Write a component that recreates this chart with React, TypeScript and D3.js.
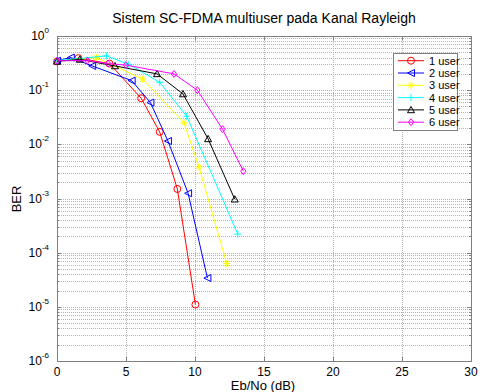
import { useEffect, useRef } from 'react';
import * as d3 from 'd3';

// BER vs Eb/No, one array per user count
const user1X = [0, 1.55, 3.8, 6.1, 7.44, 8.72, 10.03];
const user1Y = [0.34, 0.39, 0.31, 0.071, 0.017, 1.5e-3, 1.1e-5];
const user2X = [0, 1.0, 2.55, 5.41, 6.77, 8.04, 9.5, 10.9];
const user2Y = [0.35, 0.40, 0.28, 0.15, 0.059, 0.0115, 1.25e-3, 3.4e-5];
const user3X = [0, 2.85, 6.2, 9.2, 10.29, 12.3];
const user3Y = [0.35, 0.40, 0.16, 0.025, 3.8e-3, 6.3e-5];
const user4X = [0, 3.58, 5.2, 7.44, 9.4, 13.1];
const user4Y = [0.35, 0.43, 0.30, 0.14, 0.033, 2.2e-4];
const user5X = [0, 1.65, 4.2, 7.25, 9.13, 10.95, 12.88];
const user5Y = [0.34, 0.37, 0.28, 0.2, 0.085, 0.0126, 9.7e-4];
const user6X = [0, 2.2, 3.7, 5.0, 8.48, 10.17, 12.0, 13.5];
const user6Y = [0.35, 0.35, 0.31, 0.29, 0.20, 0.10, 0.019, 3.2e-3];

const seriesNames = ['1 user', '2 user', '3 user', '4 user', '5 user', '6 user'];
const seriesColors = ['#ff0000', '#0000ff', '#ffff00', '#00ffff', '#000000', '#ff00ff'];
const seriesMarkers = ['circle', 'tri-left', 'star', 'plus', 'tri-up', 'diamond'];
const xTicks = [0, 5, 10, 15, 20, 25, 30];
const yDecades = [-6, -5, -4, -3, -2, -1, 0];

type Pt = [number, number];

function markerPath(kind: string, s: number): string {
  switch (kind) {
    case 'tri-left':
      return `M${-s},0L${s},${-s}L${s},${s}Z`;
    case 'tri-up':
      return `M0,${-s}L${s},${s * 0.8}L${-s},${s * 0.8}Z`;
    case 'diamond':
      return `M0,${-s}L${s * 0.75},0L0,${s}L${-s * 0.75},0Z`;
    case 'plus':
      return `M${-s},0L${s},0M0,${-s}L0,${s}`;
    case 'star': {
      const d = s * 0.7;
      return `M${-s},0L${s},0M0,${-s}L0,${s}M${-d},${-d}L${d},${d}M${-d},${d}L${d},${-d}`;
    }
    default:
      return d3.symbol(d3.symbolCircle, Math.PI * s * s)() || '';
  }
}

export default function App() {
  const svgRef = useRef<SVGSVGElement>(null);

  useEffect(() => {
    if (!svgRef.current) return;
    const svg = d3.select(svgRef.current);
    svg.selectAll('*').remove();

    const font = 'Liberation Sans, Arial, sans-serif';
    const left = 57, right = 471, top = 36, bottom = 361;

    const x = d3.scaleLinear().domain([0, 30]).range([left, right]);
    const y = d3.scaleLog().domain([1e-6, 1]).range([bottom, top]);

    const series: Pt[][] = [
      user1X.map((v, i) => [v, user1Y[i]] as Pt),
      user2X.map((v, i) => [v, user2Y[i]] as Pt),
      user3X.map((v, i) => [v, user3Y[i]] as Pt),
      user4X.map((v, i) => [v, user4Y[i]] as Pt),
      user5X.map((v, i) => [v, user5Y[i]] as Pt),
      user6X.map((v, i) => [v, user6Y[i]] as Pt),
    ];

    svg.append('rect')
      .attr('width', 480).attr('height', 392).attr('fill', '#fff');

    // grid
    const grid = svg.append('g')
      .attr('stroke', '#b4b4b4')
      .attr('stroke-width', 1)
      .attr('stroke-dasharray', '1,1')
      .attr('shape-rendering', 'crispEdges');

    xTicks.slice(1, -1).forEach(t => {
      grid.append('line')
        .attr('x1', Math.round(x(t)) + 0.5).attr('x2', Math.round(x(t)) + 0.5)
        .attr('y1', top).attr('y2', bottom);
    });

    const yMinor: number[] = [];
    yDecades.forEach(e => {
      for (let m = 1; m < 10; m++) {
        const v = m * Math.pow(10, e);
        if (v <= 1 && v >= 1e-6) yMinor.push(v);
      }
    });
    yMinor.filter(v => v > 1e-6 && v < 1).forEach(v => {
      grid.append('line')
        .attr('x1', left).attr('x2', right)
        .attr('y1', Math.round(y(v)) + 0.5).attr('y2', Math.round(y(v)) + 0.5);
    });

    // ticks inside the box
    const ticks = svg.append('g').attr('stroke', '#808080').attr('shape-rendering', 'crispEdges');
    xTicks.forEach(t => {
      const px = Math.round(x(t)) + 0.5;
      ticks.append('line').attr('x1', px).attr('x2', px).attr('y1', bottom).attr('y2', bottom - 4);
      ticks.append('line').attr('x1', px).attr('x2', px).attr('y1', top).attr('y2', top + 4);
    });
    yMinor.forEach(v => {
      const py = Math.round(y(v)) + 0.5;
      const len = Number.isInteger(Math.log10(v)) || Math.abs(Math.log10(v) - Math.round(Math.log10(v))) < 1e-9 ? 4 : 2;
      ticks.append('line').attr('x1', left).attr('x2', left + len).attr('y1', py).attr('y2', py);
      ticks.append('line').attr('x1', right).attr('x2', right - len).attr('y1', py).attr('y2', py);
    });

    svg.append('rect')
      .attr('x', left + 0.5).attr('y', top + 0.5)
      .attr('width', right - left).attr('height', bottom - top)
      .attr('fill', 'none').attr('stroke', '#808080')
      .attr('shape-rendering', 'crispEdges');

    // tick labels
    svg.append('g')
      .selectAll('text')
      .data(xTicks)
      .join('text')
      .attr('x', d => x(d))
      .attr('y', 376)
      .attr('text-anchor', 'middle')
      .attr('font-family', font)
      .attr('font-size', 12)
      .text(d => d);

    const yl = svg.append('g').attr('font-family', font);
    yDecades.forEach(e => {
      const py = y(Math.pow(10, e));
      const t = yl.append('text')
        .attr('x', 49)
        .attr('y', py + 4)
        .attr('text-anchor', 'end')
        .attr('font-size', 12);
      t.append('tspan').text('10');
      t.append('tspan').attr('font-size', 8).attr('dy', -7).text(String(e));
    });

    // series
    const line = d3.line<Pt>().x(d => x(d[0])).y(d => y(d[1]));
    series.forEach((pts, i) => {
      const g = svg.append('g');
      g.append('path')
        .attr('d', line(pts))
        .attr('fill', 'none')
        .attr('stroke', seriesColors[i])
        .attr('stroke-width', 1);
      g.selectAll('path.mk')
        .data(pts)
        .join('path')
        .attr('class', 'mk')
        .attr('transform', d => `translate(${x(d[0])},${y(d[1])})`)
        .attr('d', markerPath(seriesMarkers[i], 3.5))
        .attr('fill', 'none')
        .attr('stroke', seriesColors[i])
        .attr('stroke-width', 1);
    });

    // legend
    const lg = svg.append('g');
    lg.append('rect')
      .attr('x', 393.5).attr('y', 53.5)
      .attr('width', 64).attr('height', 77)
      .attr('fill', '#fff').attr('stroke', '#808080')
      .attr('shape-rendering', 'crispEdges');
    seriesNames.forEach((name, i) => {
      const ly = 60.7 + i * 12.3;
      lg.append('line')
        .attr('x1', 398).attr('x2', 424).attr('y1', ly).attr('y2', ly)
        .attr('stroke', seriesColors[i]);
      lg.append('path')
        .attr('transform', `translate(411,${ly})`)
        .attr('d', markerPath(seriesMarkers[i], 3.5))
        .attr('fill', 'none')
        .attr('stroke', seriesColors[i]);
      lg.append('text')
        .attr('x', 429).attr('y', ly + 4)
        .attr('font-family', font).attr('font-size', 11)
        .text(name);
    });

    // titles
    svg.append('text')
      .attr('x', 264).attr('y', 23)
      .attr('text-anchor', 'middle')
      .attr('font-family', font).attr('font-size', 14)
      .text('Sistem SC-FDMA multiuser pada Kanal Rayleigh');
    svg.append('text')
      .attr('x', 263).attr('y', 390)
      .attr('text-anchor', 'middle')
      .attr('font-family', font).attr('font-size', 13)
      .text('Eb/No (dB)');
    svg.append('text')
      .attr('transform', 'translate(21,199) rotate(-90)')
      .attr('text-anchor', 'middle')
      .attr('font-family', font).attr('font-size', 13)
      .text('BER');
  }, []);

  return (
    <svg
      ref={svgRef}
      width={480}
      height={392}
      style={{ position: 'absolute', left: 0, top: 0 }}
    />
  );
}
